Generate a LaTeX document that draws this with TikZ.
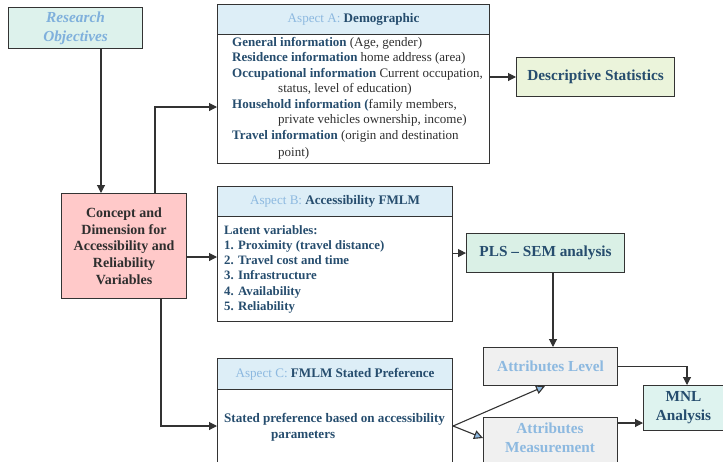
\documentclass[tikz,border=0pt]{standalone}
\usepackage{fontspec}
\setmainfont{Liberation Serif}
\usetikzlibrary{arrows.meta}
\definecolor{lineC}{HTML}{333333}
\definecolor{dblue}{HTML}{264D6E}
\definecolor{lblue}{HTML}{8DB9E0}
\definecolor{roFill}{HTML}{DDF2EC}
\definecolor{roText}{HTML}{7FB0DC}
\definecolor{pinkF}{HTML}{FFC9C9}
\definecolor{headF}{HTML}{DDEEF7}
\definecolor{descF}{HTML}{EBF4DB}
\definecolor{plsF}{HTML}{DAF0E6}
\definecolor{attF}{HTML}{F0F0F0}
\definecolor{mnlF}{HTML}{DEF3EF}
\definecolor{bodyT}{HTML}{2E2E2E}
\tikzset{
  box/.style={draw=lineC, line width=1.1pt, anchor=north west, inner sep=0pt, align=center},
  arr/.style={draw=lineC, line width=1.1pt, -{Triangle[length=8pt,width=8pt]}},
  barr/.style={draw=lineC, line width=1.1pt, -{Triangle[length=9pt,width=9pt,fill=lblue]}},
  bodytxt/.style={anchor=north west, inner sep=0pt, align=left, text=bodyT, font=\fontsize{13}{15.5}\selectfont},
  headtxt/.style={text=dblue, font=\fontsize{13.1}{15}\selectfont},
}
\newcommand{\asp}[1]{{\color{lblue}\mdseries #1}}
\begin{document}
\begin{tikzpicture}[x=1pt,y=-1pt]
\useasboundingbox (0,0) rectangle (723,461);
\clip (0,0) rectangle (723,461);
% Research objectives
\node[box, fill=roFill, minimum width=134pt, minimum height=41pt, text=roText,
  font=\fontsize{15.3}{19}\selectfont\bfseries\itshape] (ro) at (8,7) {Research\\Objectives};
% Concept
\node[box, fill=pinkF, minimum width=125pt, minimum height=105pt, text=bodyT,
  font=\fontsize{14}{16.8}\selectfont\bfseries] (cd) at (61,193)
  {Concept and\\Dimension for\\Accessibility and\\Reliability\\Variables};
% Aspect A
\node[box, minimum width=272pt, minimum height=159pt] (A) at (217,4) {};
\node[box, fill=headF, minimum width=272pt, minimum height=30pt, headtxt] (Ah) at (217,4)
  {\asp{Aspect A:} \textbf{Demographic}};
\node[bodytxt] (Ab) at (232,37) {%
{\color{dblue}\bfseries General information} (Age, gender)\\
{\color{dblue}\bfseries Residence information} home address (area)\\
{\color{dblue}\bfseries Occupational information} Current occupation,\\
\hspace*{46pt}status, level of education)\\
{\color{dblue}\bfseries Household information (}family members,\\
\hspace*{46pt}private vehicles ownership, income)\\
{\color{dblue}\bfseries Travel information} (origin and destination\\[1.5pt]
\hspace*{46pt}point)};
% Descriptive
\node[box, fill=descF, minimum width=158pt, minimum height=39pt, text=dblue,
  font=\fontsize{15.3}{18}\selectfont\bfseries] (ds) at (516,57) {Descriptive Statistics};
% Aspect B
\node[box, minimum width=235pt, minimum height=135pt] (B) at (217,186) {};
\node[box, fill=headF, minimum width=235pt, minimum height=30pt, headtxt] (Bh) at (217,186)
  {\asp{Aspect B:} \textbf{Accessibility FMLM}};
\node[bodytxt, text=dblue, font=\fontsize{12.8}{15.3}\selectfont\bfseries] (Bb) at (224,225) {%
Latent variables:\\
1. Proximity (travel distance)\\
2. Travel cost and time\\
3. Infrastructure\\
4. Availability\\
5. Reliability};
% PLS
\node[box, fill=plsF, minimum width=158pt, minimum height=39pt, text=dblue,
  font=\fontsize{15.3}{18}\selectfont\bfseries] (pls) at (466,233) {PLS -- SEM analysis};
% Aspect C
\node[box, minimum width=235pt, minimum height=140pt] (C) at (217,358) {};
\node[box, fill=headF, minimum width=235pt, minimum height=31pt, headtxt] (Ch) at (217,358)
  {\asp{Aspect C:} \textbf{FMLM Stated Preference}};
\node[anchor=north west, inner sep=0pt, align=left, text=dblue,
  font=\fontsize{13.1}{16}\selectfont\bfseries] (Cb) at (224,413)
  {Stated preference based on accessibility\\\hspace*{47pt}parameters};
% Attributes
\node[box, fill=attF, minimum width=134pt, minimum height=38pt, text=lblue,
  font=\fontsize{15.3}{18}\selectfont\bfseries] (al) at (483,347) {Attributes Level};
\node[box, fill=attF, minimum width=134pt, minimum height=60pt] (am) at (483,417) {};
\node[anchor=north, inner sep=0pt, text=lblue, align=center,
  font=\fontsize{15.3}{19}\selectfont\bfseries] (amt) at (550,423) {Attributes\\Measurement};
% MNL
\node[box, fill=mnlF, minimum width=80pt, minimum height=45pt, text=dblue,
  font=\fontsize{15.3}{19}\selectfont\bfseries] (mnl) at (643,385) {MNL\\Analysis};
% connectors
\draw[arr] (ro.south -| 101,0) -- (cd.north -| 101,0);
\draw[arr] (cd.north -| 155,0) |- (A.west |- 0,107);
\draw[arr] (A.east |- 0,77) -- (ds.west |- 0,77);
\draw[arr] (cd.east |- 0,257) -- (B.west |- 0,257);
\draw[arr] (B.east |- pls.west) -- (pls.west);
\draw[arr] (cd.south -| 161,0) |- (C.west |- 0,426);
\draw[arr] (pls.south -| 553,0) -- (al.north -| 553,0);
\draw[arr] (al.east) -| (mnl.north -| 687,0);
\draw[arr] (am.east |- 0,423) -- (mnl.west |- 0,423);
\coordinate (cfork) at (C.east |- 0,426);
\draw[barr] (cfork) -- (al.south -| 545,0);
\draw[barr] (cfork) -- (am.west |- 0,438);
\end{tikzpicture}
\end{document}
